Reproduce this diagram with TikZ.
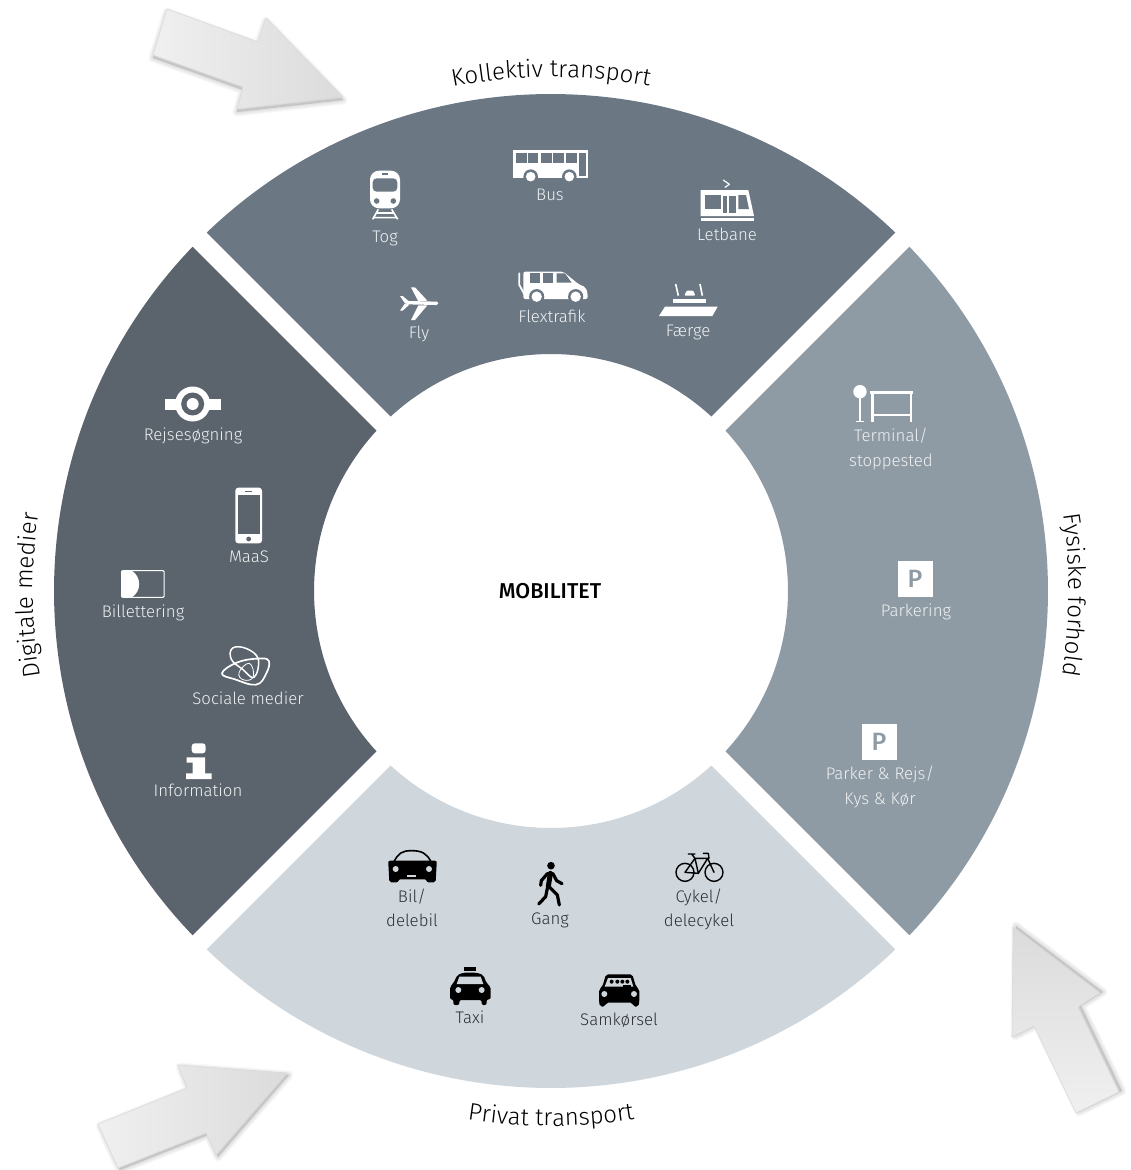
\documentclass[tikz,border=0pt]{standalone}
\usepackage{fontspec}
\setmainfont{Fira Sans}[UprightFont=* Light, BoldFont=* Medium]
\usetikzlibrary{decorations.text}
\definecolor{topc}{HTML}{6B7884}
\definecolor{rightc}{HTML}{8F9BA4}
\definecolor{botc}{HTML}{CFD6DC}
\definecolor{leftc}{HTML}{5B636C}
\definecolor{lighttxt}{HTML}{EEF1F2}
\definecolor{darktxt}{HTML}{2C3034}
\definecolor{pilkant}{HTML}{DADADA}
\tikzset{
  lbl/.style={anchor=base,inner sep=0pt,font=\fontsize{16.8pt}{20pt}\selectfont},
  lys/.style={lbl,text=lighttxt},
  moerk/.style={lbl,text=darktxt},
  zoomframe/.style={x=.33333pt,y=-.33333pt},
  kant/.style={line cap=round,line join=round},
  pilform/.style={draw=pilkant,line width=.6pt,line join=miter},
}
\newcommand{\sektor}[2]{\fill[#2] ({#1+43.85}:497pt) arc[start angle={#1+43.85},end angle={#1-43.85},radius=497pt]
  -- ({#1-42.58}:237pt) arc[start angle={#1-42.58},end angle={#1+42.58},radius=237pt] -- cycle;}
\newcommand{\titel}[4]{\path[decorate,decoration={text along path,text align=center,
  text={|\fontsize{24pt}{26pt}\selectfont\color{black}|#4}}] (#1:#3pt) arc[start angle=#1,end angle=#2,radius=#3pt];}
\newcommand{\skygge}[3]{\foreach \w in {1,3,5,7,9}{
   \draw[black,opacity=.028,fill=black,fill opacity=.028,line width=\w pt,line join=round,shift={(#1,#2)}] #3 -- cycle;}}
\begin{document}
\begin{tikzpicture}[x=1pt,y=-1pt]
\useasboundingbox (0,0) rectangle (1130,1170);
% arrows
\skygge{0}{3}{(167,9)--(258,42)--(266,18)--(343,97)--(237,109)--(243,87)--(153,55)}
\shade[pilform,left color=black!6,right color=black!14] (167,9)--(258,42)--(266,18)--(343,97)--(237,109)--(243,87)--(153,55)--cycle;
\skygge{3}{-1}{(1013,927)--(1100,993)--(1078,1007)--(1119,1092)--(1076,1113)--(1034,1026)--(1012,1037)}
\shade[pilform,bottom color=black!6,top color=black!14] (1013,927)--(1100,993)--(1078,1007)--(1119,1092)--(1076,1113)--(1034,1026)--(1012,1037)--cycle;
\skygge{2}{2}{(287,1073)--(178,1065)--(187,1088)--(98,1124)--(118,1168)--(206,1133)--(216,1155)}
\shade[pilform,left color=black!6,right color=black!14] (287,1073)--(178,1065)--(187,1088)--(98,1124)--(118,1168)--(206,1133)--(216,1155)--cycle;
% ring
\begin{scope}[shift={(551,591)},y=1pt]
\sektor{90}{topc}
\sektor{0}{rightc}
\sektor{270}{botc}
\sektor{180}{leftc}
\titel{120}{60}{514}{Kollektiv transport}
\titel{24.6}{-25.4}{518}{Fysiske forhold}
\titel{240}{300}{535}{Privat transport}
\titel{205.5}{155.5}{518}{Digitale medier}
\end{scope}
\node[anchor=center,inner sep=0pt,font=\bfseries\fontsize{21.5pt}{26pt}\selectfont] (mobilitet) at (550,591) {MOBILITET};
% top sector icons
\begin{scope}[shift={(350,130)},zoomframe]
\fill[white,rounded corners=9pt] (60,122) rectangle (150,235);
\fill[topc,rounded corners=4pt] (68,145) rectangle (142,185);
\fill[topc] (95,129) rectangle (115,135);
\fill[topc] (80,213) circle[radius=2.8pt] (130,213) circle[radius=2.8pt];
\draw[white,line width=1.6pt] (85,238)--(68,268) (125,238)--(143,268) (78,249)--(132,249) (70,263)--(140,263);
\fill[white] (490,60) rectangle (713,145);
\foreach \a/\b in {497/530,535/565,572/605,610/642,648/680}{\fill[topc] (\a,70) rectangle (\b,100);}
\fill[topc] (687,70) rectangle (707,138);
\foreach \a in {542,658}{\fill[topc] (\a,140) circle[radius=7.3pt];\fill[white] (\a,140) circle[radius=4.8pt];}
\draw[white,line width=1.2pt,kant] (1120,150)--(1138,163)--(1125,172);
\fill[white] (1052,180)--(1195,180)--(1212,258)--(1052,258)--cycle;
\fill[topc] (1065,195) rectangle (1112,237);
\fill[topc] (1120,197) rectangle (1132,250);
\fill[topc] (1137,197) rectangle (1158,250);
\fill[topc] (1165,195)--(1188,195)--(1197,237)--(1165,237)--cycle;
\fill[white] (1052,265) rectangle (1212,274);
\draw[white,line width=3.4pt,line cap=round] (172,518)--(260,520);
\fill[white] (183,472)--(195,472)--(232,512)--(205,514)--cycle;
\fill[white] (205,526)--(232,526)--(195,570)--(183,570)--cycle;
\fill[white] (150,498)--(158,498)--(178,515)--(165,520)--cycle;
\fill[white] (150,542)--(158,542)--(178,524)--(165,520)--cycle;
\fill[white,rounded corners=2pt] (520,425)--(640,425)--(685,462)--(707,472)--(713,490)--(713,507)--(520,507)--cycle;
\draw[white,line width=1.8pt,kant] (508,430)--(508,465)--(530,505);
\fill[topc] (540,430) rectangle (570,458);
\fill[topc] (580,430) rectangle (610,458);
\fill[topc] (620,430)--(645,430)--(665,458)--(620,458)--cycle;
\foreach \a in {560,677}{\fill[topc] (\a,500) circle[radius=7.6pt];\fill[white] (\a,500) circle[radius=5.2pt];}
\fill[white] (945,530)--(1103,530)--(1087,558)--(927,558)--cycle;
\fill[white] (968,506) rectangle (1068,519);
\fill[white,rounded corners=1pt] (1003,497)--(1010,482)--(1030,482)--(1036,497)--cycle;
\draw[white,line width=1.6pt] (977,462)--(985,497) (1050,462)--(1057,497);
\end{scope}
\node[lys] (tog) at (385,242) {Tog};
\node[lys] (bus) at (550,200) {Bus};
\node[lys] (letbane) at (727,240) {Letbane};
\node[lys] (fly) at (419,338) {Fly};
\node[lys] (flex) at (552,322) {Flextrafik};
\node[lys] (faerge) at (688,336) {Færge};
% left sector icons
\begin{scope}[shift={(90,380)},zoomframe]
\fill[white] (225,56) rectangle (392,90);
\fill[white] (308,72) circle[radius=17.5pt];
\fill[leftc] (308,72) circle[radius=11.5pt];
\fill[white] (308,72) circle[radius=6pt];
\fill[white,rounded corners=3pt] (436,323) rectangle (516,490);
\fill[leftc] (443,345) rectangle (510,462);
\fill[leftc] (465,332) rectangle (487,336);
\fill[leftc] (476,477) circle[radius=2.4pt];
\draw[white,line width=1pt,rounded corners=1pt] (95,572) rectangle (222,652);
\fill[white] (95,572)--(125,572) .. controls (155,590) and (155,635) .. (125,652)--(95,652)--cycle;
\draw[white,line width=1.5pt] plot[smooth cycle,tension=.7] coordinates {(428,804) (470,806) (505,838) (492,892) (458,868) (424,838)};
\draw[white,line width=1.7pt] plot[smooth cycle,tension=.7] coordinates {(396,880) (440,848) (500,836) (536,842) (528,882) (498,914) (435,898)};
\draw[white,line width=.8pt] plot[smooth cycle,tension=.8] coordinates {(447,878) (478,850) (490,890) (462,900)};
\fill[white,rounded corners=3pt] (305,1090) rectangle (347,1120);
\fill[white] (290,1132)--(345,1132)--(345,1180)--(365,1180)--(365,1197)--(288,1197)--(288,1180)--(308,1180)--(308,1148)--(290,1148)--cycle;
\end{scope}
\node[lys] (rejse) at (193,440) {Rejsesøgning};
\node[lys] (maas) at (249,562) {MaaS};
\node[lys] (billet) at (143,617) {Billettering};
\node[lys] (sociale) at (248,704) {Sociale medier};
\node[lys] (info) at (198,796) {Information};
% bottom sector icons
\begin{scope}[shift={(370,840)},zoomframe]
\draw[black,line width=1.6pt] (72,65) .. controls (85,40) and (95,32) .. (125,32) .. controls (155,32) and (170,40) .. (183,65);
\fill[black,rounded corners=2pt] (55,62)--(200,62)--(200,70)--(197,127)--(170,127)--(170,118)--(85,118)--(85,127)--(58,127)--(55,70)--cycle;
\fill[botc] (77,87) circle[radius=3pt] (177,87) circle[radius=3pt];
\fill[botc] (110,105) rectangle (138,110);
\fill[black] (543,77) circle[radius=3.8pt];
\draw[black,line width=5pt,line cap=round] (541,100)--(535,140);
\draw[black,line width=3.2pt,kant] (533,100)--(514,122)--(512,136) (548,100)--(560,122)--(576,131) (533,140)--(527,170)--(506,192) (537,140)--(562,165)--(568,195);
\draw[black,line width=1.4pt] (945,97) circle[radius=9pt] (1032,97) circle[radius=9pt];
\draw[black,line width=1.4pt,kant] (945,97)--(975,55)--(1013,55)--(985,100)--cycle (975,55)--(985,100) (1013,55)--(1032,97) (955,42)--(975,42) (965,42)--(975,55) (1000,40)--(1015,40)--(1017,55);
\fill[black] (283,382) rectangle (318,392);
\fill[black,rounded corners=2pt] (262,405)--(280,398)--(320,398)--(340,405)--(350,430)--(362,440)--(362,478)--(350,478)--(350,495)--(335,495)--(335,480)--(268,480)--(268,495)--(250,495)--(250,478)--(240,478)--(240,440)--(250,430)--cycle;
\fill[botc] (268,410)--(332,410)--(340,432)--(260,432)--cycle;
\fill[botc] (265,450) circle[radius=3pt] (335,450) circle[radius=3pt];
\fill[black,rounded corners=2pt] (708,403)--(787,403)--(798,440)--(808,448)--(808,485)--(805,500)--(790,500)--(788,488)--(708,488)--(705,500)--(690,500)--(687,485)--(687,448)--(697,440)--cycle;
\fill[botc] (714,414)--(782,414)--(790,440)--(704,440)--cycle;
\fill[black] (725,425) circle[radius=2pt] (742,425) circle[radius=2pt] (757,425) circle[radius=2pt] (772,425) circle[radius=2pt];
\fill[black] (760,436) rectangle (782,440);
\fill[botc] (703,462) circle[radius=3pt] (792,462) circle[radius=3pt];
\end{scope}
\node[moerk] (bil) at (412,902) {Bil/};
\node[moerk] (delebil) at (412,926) {delebil};
\node[moerk] (gang) at (550,924) {Gang};
\node[moerk] (cykel) at (699,902) {Cykel/};
\node[moerk] (delecykel) at (699,926) {delecykel};
\node[moerk] (taxi) at (470,1023) {Taxi};
\node[moerk] (samk) at (619,1025) {Samkørsel};
% right sector icons
\begin{scope}[shift={(810,370)},zoomframe]
\fill[white] (150,65) circle[radius=6.7pt];
\draw[white,line width=1.2pt] (150,85)--(150,155) (137,155)--(163,155);
\draw[white,line width=2.6pt] (180,67)--(310,67) (188,67)--(188,157);
\draw[white,line width=1.6pt] (303,67)--(303,157) (188,135)--(303,135);
\fill[white] (264,574) rectangle (369,680);
\fill[white] (155,1063) rectangle (260,1169);
\end{scope}
\node[inner sep=0pt,text=rightc,font=\bfseries\fontsize{25pt}{26pt}\selectfont] (p1) at (915,579) {P};
\node[inner sep=0pt,text=rightc,font=\bfseries\fontsize{25pt}{26pt}\selectfont] (p2) at (879,742) {P};
\node[lys] (term) at (891,441) {Terminal/};
\node[lys] (stop) at (891,466) {stoppested};
\node[lys] (park) at (916,616) {Parkering};
\node[lys] (prejs) at (880,779) {Parker \& Rejs/};
\node[lys] (kys) at (880,804) {Kys \& Kør};
\end{tikzpicture}
\end{document}
